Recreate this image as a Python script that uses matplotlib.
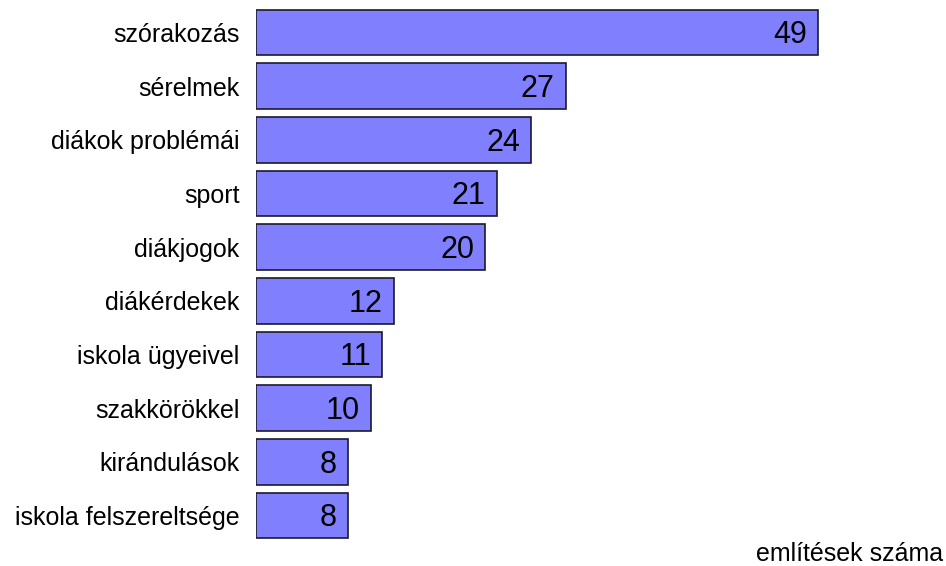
import matplotlib
matplotlib.use("Agg")
import matplotlib.pyplot as plt

categories = ["szórakozás", "sérelmek", "diákok problémái", "sport", "diákjogok",
              "diákérdekek", "iskola ügyeivel", "szakkörökkel", "kirándulások",
              "iskola felszereltsége"]
counts = [49, 27, 24, 21, 20, 12, 11, 10, 8, 8]
xlabel = "említések száma"

plt.rcParams["font.family"] = ["Liberation Sans", "DejaVu Sans"]

fig = plt.figure(figsize=(9.46, 5.66), dpi=100)
W, H = 946, 566
# axes: left 256px, right 940px, top 5px, bottom 545px
ax = fig.add_axes([256 / W, 1 - 545 / H, (940 - 256) / W, 540 / H])

y = list(range(len(categories)))
ax.barh(y, counts, height=0.85, color="#8080FF", edgecolor="#1a1a2e", linewidth=1.2)

ax.set_xlim(0, (940 - 256) / 11.47)
ax.set_ylim(-0.512 + 10.06, -0.512)
ax.set_yticks(y)
ax.set_yticklabels(categories, fontsize=18)
ax.tick_params(axis="y", length=0, pad=12)
ax.set_xticks([])
for s in ax.spines.values():
    s.set_visible(False)

for yi, v in zip(y, counts):
    ax.annotate(str(v), xy=(v, yi), xytext=(-8, -2), textcoords="offset points",
                ha="right", va="center", fontsize=22)

fig.text(943 / W, 1 - 554 / H, xlabel, ha="right", va="center", fontsize=18)

fig.savefig("out.png", dpi=100)
